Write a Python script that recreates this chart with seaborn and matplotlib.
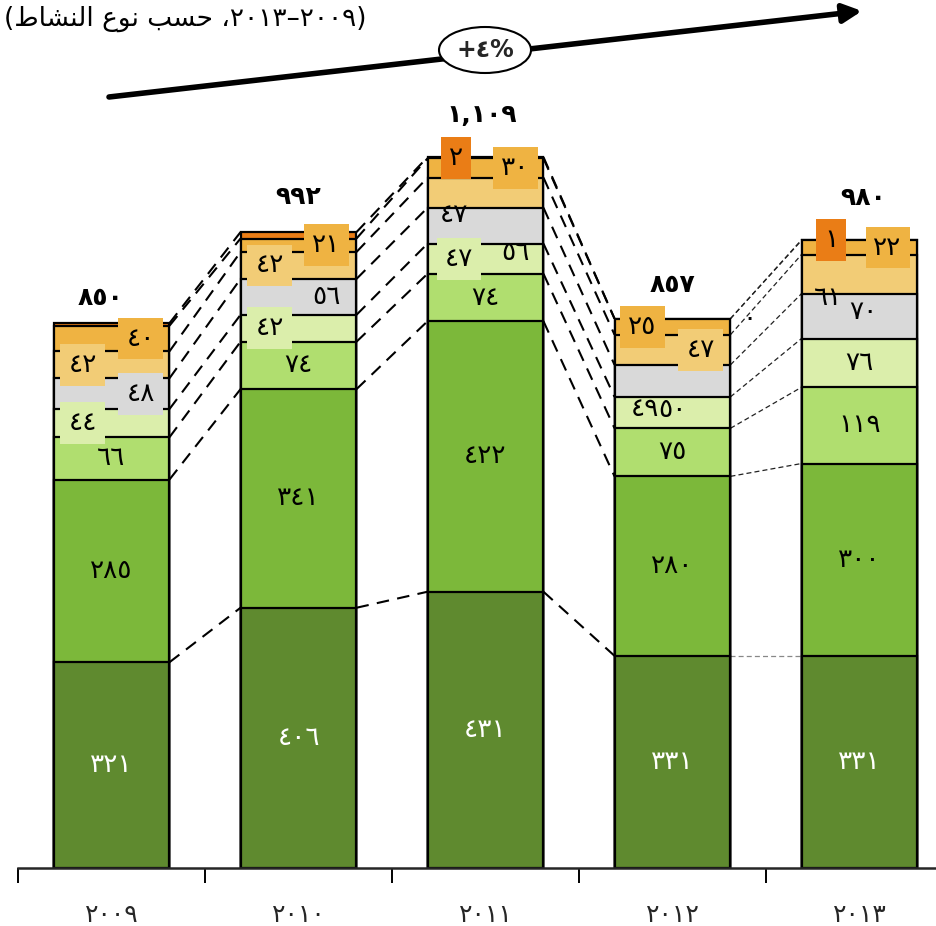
import numpy as np
import pandas as pd
import matplotlib
matplotlib.use("Agg")
import matplotlib.pyplot as plt
import seaborn as sns
from matplotlib.patches import Ellipse

# ---------------- data ----------------
years = ["2009", "2010", "2011", "2012", "2013"]
dark_green = [321, 406, 431, 331, 331]
green = [285, 341, 422, 280, 300]
light_green = [66, 74, 74, 75, 119]
pale_green = [44, 42, 47, 49, 76]
gray = [48, 56, 56, 50, 70]
light_orange = [42, 42, 47, 47, 61]
orange = [40, 21, 30, 25, 22]
dark_orange = [4, 10, 2, 0, 1]
totals = ["850", "992", "1,109", "857", "980"]
growth_label = "+4%"

layers = [dark_green, green, light_green, pale_green, gray, light_orange, orange, dark_orange]
colors = ["#5f8a2f", "#7cb83a", "#b0de6f", "#dbeeab", "#d9d9d9", "#f2cc76", "#efb342", "#ea7d16"]

AR = str.maketrans("0123456789", "٠١٢٣٤٥٦٧٨٩")
def ar(s):
    return str(s).translate(AR)

sns.set_style("white")
plt.rcParams["font.family"] = ["DejaVu Sans"]

W, H = 937, 926
fig = plt.figure(figsize=(W / 100, H / 100), dpi=100)
fig.patch.set_facecolor("white")
ax = fig.add_axes([18 / W, 58 / H, 935 / W, 868 / H])

ymax = 868 / 0.641
vals = np.array(layers, dtype=float)
cum = np.cumsum(vals, axis=0)
bar_w = 0.62
ylab = [ar(y) for y in years]

# stacked bars drawn from the top layer downwards
for k in range(len(layers) - 1, -1, -1):
    df = pd.DataFrame({"year": ylab, "v": cum[k]})
    sns.barplot(data=df, x="year", y="v", color=colors[k], saturation=1,
                width=bar_w, edgecolor="black", linewidth=1.6, ax=ax,
                order=ylab, zorder=3)

ax.set_xlim(-0.5, 4.5)
ax.set_ylim(0, ymax)
px = ymax / 868  # data units per pixel

# connector lines
for i in range(4):
    x0 = i + bar_w / 2
    x1 = i + 1 - bar_w / 2
    for k in range(len(layers)):
        if i < 3:
            ax.plot([x0, x1], [cum[k][i], cum[k][i + 1]], color="black", lw=1.5,
                    dashes=(6, 4), zorder=2)
        else:
            c = "#888888" if k == 0 else "#222222"
            ax.plot([x0, x1], [cum[k][i], cum[k][i + 1]], color=c, lw=0.9,
                    dashes=(4, 2.5), zorder=2)

# label layout: (year, layer) -> (dx, dy_px, boxed); None = hidden
layout = {
    (0, 3): (-0.155, 0, True), (0, 4): (0.155, 0, True), (0, 5): (-0.155, 0, True),
    (0, 6): (0.155, 0, True), (0, 7): None,
    (1, 3): (-0.155, 0, True), (1, 4): (0.15, 0, False), (1, 5): (-0.155, 0, True),
    (1, 6): (0.15, 0, True), (1, 7): None,
    (2, 3): (-0.14, 0, True), (2, 4): (0.16, 27, False), (2, 5): (-0.17, 22, False),
    (2, 6): (0.16, 0, True), (2, 7): (-0.16, 0, True),
    (3, 3): (-0.15, -4, False), (3, 4): (0.0, 29, False), (3, 5): (0.15, 0, True),
    (3, 6): (-0.16, 0, True), (3, 7): (0.41, 0, False),
    (4, 4): (0.02, -4, False), (4, 5): (-0.17, 24, False), (4, 6): (0.15, 0, True),
    (4, 7): (-0.15, 0, True),
}
for i in range(5):
    for k in range(len(layers)):
        spec = layout.get((i, k), (0, 0, False))
        if spec is None:
            continue
        dx, dy, boxed = spec
        mid = cum[k][i] - vals[k][i] / 2
        kw = {}
        if boxed:
            kw["bbox"] = dict(boxstyle="square,pad=0.3", fc=colors[k], ec="none")
        ax.text(i + dx, mid - dy * px, ar(int(vals[k][i])), ha="center", va="center",
                fontsize=19, color="white" if k == 0 else "black", zorder=6, **kw)

# totals
tot_dy = [25, 35, 42, 34, 42]
tot_dx = [-0.06, 0, -0.02, 0, 0.02]
for i in range(5):
    ax.text(i + tot_dx[i], cum[-1][i] + tot_dy[i] * px, ar(totals[i]), ha="center",
            va="center", fontsize=18, fontweight="bold", color="black", zorder=6)

# axes styling
for s in ["left", "right", "top"]:
    ax.spines[s].set_visible(False)
ax.spines["bottom"].set_linewidth(1.8)
ax.spines["bottom"].set_zorder(5)
ax.set_yticks([])
ax.set_xlabel("")
ax.set_ylabel("")
ax.set_xticks(np.arange(-0.5, 5, 1), minor=True)
ax.tick_params(axis="x", which="minor", bottom=True, length=11, width=1.4,
               direction="out", color="black")
ax.tick_params(axis="x", which="major", bottom=True, length=0, pad=25, labelsize=18)
ax.set_facecolor("none")

# overlay for title, arrow and growth ellipse
ov = fig.add_axes([0, 0, 1, 1], zorder=10)
ov.set_xlim(0, W)
ov.set_ylim(H, 0)
ov.axis("off")
ov.patch.set_alpha(0)

# title (Arabic in visual order using presentation forms)
w_nashat = "\uFEC1\uFE8E\uFEB8\uFEE8\uFEDF\uFE8D"
w_naw = "\uFEC9\uFEEE\uFEE7"
w_hasab = "\uFE90\uFEB4\uFEA3"
title = "(" + w_nashat + " " + w_naw + " " + w_hasab + " \u060C" + ar("2013") + "\u2013" + ar("2009") + ")"
ov.text(4, 19, title, ha="left", va="center", fontsize=19, color="black")

ov.annotate("", xy=(862, 11), xytext=(109, 97),
            arrowprops=dict(arrowstyle="-|>", lw=4, color="black", mutation_scale=28,
                            shrinkA=0, shrinkB=0))
ov.add_patch(Ellipse((485, 50), 92, 46, fc="white", ec="black", lw=1.5, zorder=5))
ov.text(485, 50, growth_label.replace("4", ar(4)), ha="center", va="center", fontsize=17,
        fontweight="bold", zorder=6)

fig.savefig("out.png", dpi=100)
